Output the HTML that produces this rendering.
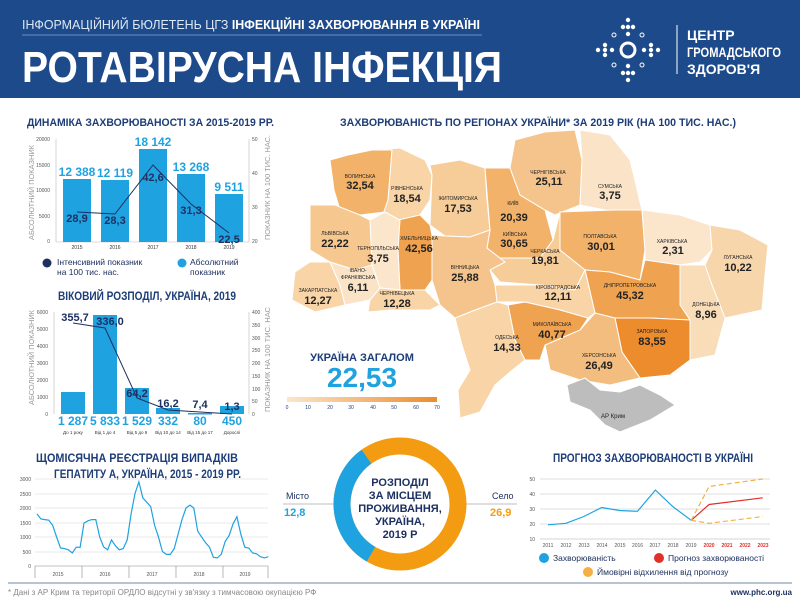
<!DOCTYPE html>
<html><head><meta charset="utf-8"><style>
html,body{margin:0;padding:0;background:#fff;}
svg{display:block;font-family:"Liberation Sans",sans-serif;}
</style></head><body>
<svg width="800" height="600" viewBox="0 0 800 600" xmlns="http://www.w3.org/2000/svg">
<!-- HEADER -->
<rect x="0" y="0" width="800" height="98" fill="#1c4a8b"/>
<text x="22" y="29" font-size="13" fill="#dfe8f5" textLength="458" lengthAdjust="spacingAndGlyphs">ІНФОРМАЦІЙНИЙ БЮЛЕТЕНЬ ЦГЗ <tspan font-weight="bold" fill="#fff">ІНФЕКЦІЙНІ ЗАХВОРЮВАННЯ В УКРАЇНІ</tspan></text>
<line x1="22" y1="35" x2="482" y2="35" stroke="#6f8fc0" stroke-width="1"/>
<text x="22" y="82" font-size="44" font-weight="bold" fill="#fff" textLength="480" lengthAdjust="spacingAndGlyphs">РОТАВІРУСНА ІНФЕКЦІЯ</text>
<g fill="#fff">
<circle cx="628" cy="50" r="7" fill="none" stroke="#fff" stroke-width="3"/>
<circle cx="628" cy="20" r="2.2"/><circle cx="628" cy="27" r="2.2"/><circle cx="623" cy="27" r="2.2"/><circle cx="633" cy="27" r="2.2"/><circle cx="628" cy="34" r="2.2"/>
<circle cx="628" cy="80" r="2.2"/><circle cx="628" cy="73" r="2.2"/><circle cx="623" cy="73" r="2.2"/><circle cx="633" cy="73" r="2.2"/><circle cx="628" cy="66" r="2.2"/>
<circle cx="598" cy="50" r="2.2"/><circle cx="605" cy="50" r="2.2"/><circle cx="605" cy="45" r="2.2"/><circle cx="605" cy="55" r="2.2"/><circle cx="612" cy="50" r="2.2"/>
<circle cx="658" cy="50" r="2.2"/><circle cx="651" cy="50" r="2.2"/><circle cx="651" cy="45" r="2.2"/><circle cx="651" cy="55" r="2.2"/><circle cx="644" cy="50" r="2.2"/>
</g>
<g fill="none" stroke="#fff" stroke-width="1"><circle cx="614" cy="35" r="2"/><circle cx="642" cy="35" r="2"/><circle cx="614" cy="65" r="2"/><circle cx="642" cy="65" r="2"/></g>
<line x1="677" y1="25" x2="677" y2="74" stroke="#fff" stroke-width="1"/>
<g font-size="14" font-weight="bold" fill="#fff"><text x="687" y="40">ЦЕНТР</text><text x="687" y="57" textLength="94" lengthAdjust="spacingAndGlyphs">ГРОМАДСЬКОГО</text><text x="687" y="74">ЗДОРОВ'Я</text></g>

<!-- SECTION TITLES -->
<g font-weight="bold" fill="#1d3d78">
<text x="27" y="126" font-size="11" textLength="247" lengthAdjust="spacingAndGlyphs">ДИНАМІКА ЗАХВОРЮВАНОСТІ ЗА 2015-2019 РР.</text>
<text x="340" y="126" font-size="11" textLength="396" lengthAdjust="spacingAndGlyphs">ЗАХВОРЮВАНІСТЬ ПО РЕГІОНАХ УКРАЇНИ* ЗА 2019 РІК (НА 100 ТИС. НАС.)</text>
<text x="58" y="300" font-size="12" textLength="178" lengthAdjust="spacingAndGlyphs">ВІКОВИЙ РОЗПОДІЛ, УКРАЇНА, 2019</text>
<text x="36" y="462" font-size="12" textLength="202" lengthAdjust="spacingAndGlyphs">ЩОМІСЯЧНА РЕЄСТРАЦІЯ ВИПАДКІВ</text>
<text x="54" y="478" font-size="12" textLength="187" lengthAdjust="spacingAndGlyphs">ГЕПАТИТУ А, УКРАЇНА, 2015 - 2019 РР.</text>
<text x="553" y="462" font-size="12" textLength="200" lengthAdjust="spacingAndGlyphs">ПРОГНОЗ ЗАХВОРЮВАНОСТІ В УКРАЇНІ</text>
</g>

<!-- CHART 1 -->
<g font-size="5" fill="#555">
<text x="50" y="141" text-anchor="end">20000</text><text x="50" y="167" text-anchor="end">15000</text><text x="50" y="192" text-anchor="end">10000</text><text x="50" y="218" text-anchor="end">5000</text><text x="50" y="243" text-anchor="end">0</text>
<text x="252" y="141">50</text><text x="252" y="175">40</text><text x="252" y="209">30</text><text x="252" y="243">20</text>
</g>
<line x1="56" y1="139" x2="56" y2="242" stroke="#bbb" stroke-width="0.6"/>
<line x1="249" y1="139" x2="249" y2="242" stroke="#bbb" stroke-width="0.6"/>
<line x1="56" y1="242" x2="249" y2="242" stroke="#bbb" stroke-width="0.6"/>
<text transform="translate(34,240) rotate(-90)" font-size="7" fill="#999" textLength="95" lengthAdjust="spacingAndGlyphs">АБСОЛЮТНИЙ ПОКАЗНИК</text>
<text transform="translate(270,240) rotate(-90)" font-size="7" fill="#999" textLength="105" lengthAdjust="spacingAndGlyphs">ПОКАЗНИК НА 100 ТИС. НАС.</text>
<g fill="#1fa2e0">
<rect x="63" y="179" width="28" height="63"/><rect x="101" y="180" width="28" height="62"/><rect x="139" y="149" width="28" height="93"/><rect x="177" y="174" width="28" height="68"/><rect x="215" y="194" width="28" height="48"/>
</g>
<g font-size="12" font-weight="bold" fill="#1fa2e0" text-anchor="middle">
<text x="77" y="176">12 388</text><text x="115" y="177">12 119</text><text x="153" y="146">18 142</text><text x="191" y="171">13 268</text><text x="229" y="191">9 511</text>
</g>
<polyline points="77,212 115,214 153,165 191,204 229,233" fill="none" stroke="#1d3060" stroke-width="1"/>
<g font-size="11" font-weight="bold" fill="#1d3060" text-anchor="middle">
<text x="77" y="222">28,9</text><text x="115" y="224">28,3</text><text x="153" y="181">42,6</text><text x="191" y="214">31,3</text><text x="229" y="243">22,5</text>
</g>
<g font-size="5" fill="#333" text-anchor="middle"><text x="77" y="249">2015</text><text x="115" y="249">2016</text><text x="153" y="249">2017</text><text x="191" y="249">2018</text><text x="229" y="249">2019</text></g>
<circle cx="47" cy="263" r="4.5" fill="#1d3060"/>
<circle cx="182" cy="263" r="4.5" fill="#1fa2e0"/>
<g font-size="8.5" fill="#1d3060"><text x="57" y="265">Інтенсивний показник</text><text x="57" y="275">на 100 тис. нас.</text><text x="190" y="265">Абсолютний</text><text x="190" y="275">показник</text></g>

<!-- CHART 2 -->
<g font-size="5" fill="#555">
<text x="48" y="314" text-anchor="end">6000</text><text x="48" y="331" text-anchor="end">5000</text><text x="48" y="348" text-anchor="end">4000</text><text x="48" y="365" text-anchor="end">3000</text><text x="48" y="382" text-anchor="end">2000</text><text x="48" y="399" text-anchor="end">1000</text><text x="48" y="416" text-anchor="end">0</text>
<text x="252" y="314">400</text><text x="252" y="327">350</text><text x="252" y="340">300</text><text x="252" y="352">250</text><text x="252" y="365">200</text><text x="252" y="378">150</text><text x="252" y="391">100</text><text x="252" y="403">50</text><text x="252" y="416">0</text>
</g>
<line x1="54" y1="312" x2="54" y2="414" stroke="#bbb" stroke-width="0.6"/>
<line x1="249" y1="312" x2="249" y2="414" stroke="#bbb" stroke-width="0.6"/>
<text transform="translate(34,405) rotate(-90)" font-size="7" fill="#999" textLength="95" lengthAdjust="spacingAndGlyphs">АБСОЛЮТНИЙ ПОКАЗНИК</text>
<text transform="translate(270,412) rotate(-90)" font-size="7" fill="#999" textLength="105" lengthAdjust="spacingAndGlyphs">ПОКАЗНИК НА 100 ТИС. НАС</text>
<g fill="#1fa2e0">
<rect x="61" y="392" width="24" height="22"/><rect x="93" y="315" width="24" height="99"/><rect x="125" y="388" width="24" height="26"/><rect x="156" y="408" width="24" height="6"/><rect x="188" y="413" width="24" height="1.5"/><rect x="220" y="406" width="24" height="8"/>
</g>
<polyline points="73,323 105,328 137,398 168,410 200,412 232,414" fill="none" stroke="#1d3060" stroke-width="1"/>
<g font-size="11" font-weight="bold" fill="#1d3060" text-anchor="middle">
<text x="75" y="321">355,7</text><text x="110" y="325">336,0</text><text x="137" y="397">64,2</text><text x="168" y="407">16,2</text><text x="200" y="408">7,4</text><text x="232" y="410">1,3</text>
</g>
<g font-size="12" font-weight="bold" fill="#1fa2e0" text-anchor="middle">
<text x="73" y="425">1 287</text><text x="105" y="425">5 833</text><text x="137" y="425">1 529</text><text x="168" y="425">332</text><text x="200" y="425">80</text><text x="232" y="425">450</text>
</g>
<g font-size="4.5" fill="#333" text-anchor="middle"><text x="73" y="434">До 1 року</text><text x="105" y="434">Від 1 до 4</text><text x="137" y="434">Від 5 до 9</text><text x="168" y="434">Від 10 до 14</text><text x="200" y="434">Від 15 до 17</text><text x="232" y="434">Дорослі</text></g>

<!-- HEPATITIS -->
<g stroke="#d5d5d5" stroke-width="0.6"><line x1="35" y1="479" x2="268" y2="479"/><line x1="35" y1="494" x2="268" y2="494"/><line x1="35" y1="508" x2="268" y2="508"/><line x1="35" y1="523" x2="268" y2="523"/><line x1="35" y1="537" x2="268" y2="537"/><line x1="35" y1="552" x2="268" y2="552"/></g>
<line x1="35" y1="566" x2="268" y2="566" stroke="#888" stroke-width="0.6"/>
<g font-size="5" fill="#555" text-anchor="end"><text x="31" y="481">3000</text><text x="31" y="496">2500</text><text x="31" y="510">2000</text><text x="31" y="525">1500</text><text x="31" y="539">1000</text><text x="31" y="554">500</text><text x="31" y="568">0</text></g>
<g stroke="#888" stroke-width="0.6"><line x1="35" y1="566" x2="35" y2="578"/><line x1="82" y1="566" x2="82" y2="578"/><line x1="129" y1="566" x2="129" y2="578"/><line x1="176" y1="566" x2="176" y2="578"/><line x1="223" y1="566" x2="223" y2="578"/><line x1="268" y1="566" x2="268" y2="578"/></g>
<g font-size="5" fill="#555" text-anchor="middle"><text x="58" y="576">2015</text><text x="105" y="576">2016</text><text x="152" y="576">2017</text><text x="199" y="576">2018</text><text x="245" y="576">2019</text></g>
<polyline fill="none" stroke="#1fa2e0" stroke-width="1.2" points="37,513.8 40.9,519 44.8,519.6 48.8,520.2 52.7,525.4 56.6,537 60.5,548 64.4,548.6 68.4,549.8 72.3,553 76.2,547.2 80.1,547.4 84,523 88,520.8 91.9,519.6 95.8,519.6 99.7,537 103.6,546.9 107.6,549.8 111.5,539.9 115.4,545.7 119.3,549.8 123.2,548.6 127.2,539.9 131.1,513.8 135,493.5 138.9,481.9 142.8,497.9 146.8,502.2 150.7,506.6 154.6,525.4 158.5,537 162.4,551.5 166.4,554.4 170.3,554.4 174.2,548.6 178.1,534.1 182,519.6 186,508 189.9,505.1 193.8,508 197.7,531.2 201.6,537 205.6,542.8 209.5,547.2 213.4,557.3 217.3,557.9 221.2,554.4 225.2,541.4 229.1,535.6 233,524 236.9,516.7 240.8,534.1 244.8,547.2 248.7,548 252.6,553 256.5,553.8 260.4,556.7 264.4,557.9 268.3,556.7"/>

<!-- DONUT -->
<line x1="283" y1="504" x2="336" y2="504" stroke="#aaa" stroke-width="0.8"/>
<line x1="464" y1="504" x2="517" y2="504" stroke="#aaa" stroke-width="0.8"/>
<circle cx="400" cy="504" r="58" fill="none" stroke="#f39c12" stroke-width="17"/>
<circle cx="400" cy="504" r="58" fill="none" stroke="#1fa2e0" stroke-width="17" stroke-dasharray="116 400" transform="rotate(120 400 504)"/>
<circle cx="336" cy="504" r="2.5" fill="#1fa2e0"/><circle cx="464" cy="504" r="2.5" fill="#f39c12"/>
<g font-size="11" font-weight="bold" fill="#1d3060" text-anchor="middle"><text x="400" y="486">РОЗПОДІЛ</text><text x="400" y="499">ЗА МІСЦЕМ</text><text x="400" y="512">ПРОЖИВАННЯ,</text><text x="400" y="525">УКРАЇНА,</text><text x="400" y="538">2019 Р</text></g>
<text x="286" y="499" font-size="9" fill="#1d3060">Місто</text>
<text x="284" y="516" font-size="11" font-weight="bold" fill="#1fa2e0">12,8</text>
<text x="492" y="499" font-size="9" fill="#1d3060">Село</text>
<text x="490" y="516" font-size="11" font-weight="bold" fill="#f39c12">26,9</text>

<!-- FORECAST -->
<g stroke="#d5d5d5" stroke-width="0.8"><line x1="540" y1="479" x2="770" y2="479"/><line x1="540" y1="494" x2="770" y2="494"/><line x1="540" y1="509" x2="770" y2="509"/><line x1="540" y1="524" x2="770" y2="524"/></g>
<line x1="540" y1="539" x2="770" y2="539" stroke="#aaa" stroke-width="0.6"/>
<g font-size="5" fill="#555" text-anchor="end"><text x="535" y="481">50</text><text x="535" y="496">40</text><text x="535" y="511">30</text><text x="535" y="526">20</text><text x="535" y="541">10</text></g>
<g font-size="5" fill="#555" text-anchor="middle"><text x="548" y="547">2011</text><text x="566" y="547">2012</text><text x="584" y="547">2013</text><text x="602" y="547">2014</text><text x="620" y="547">2015</text><text x="637.5" y="547">2016</text><text x="655" y="547">2017</text><text x="673" y="547">2018</text><text x="691" y="547">2019</text></g>
<g font-size="5" fill="#e0302a" font-weight="bold" text-anchor="middle"><text x="709" y="547">2020</text><text x="727" y="547">2021</text><text x="745" y="547">2022</text><text x="763" y="547">2023</text></g>
<polyline fill="none" stroke="#1fa2e0" stroke-width="1.2" points="548,524.8 565.9,523.3 583.8,516.5 601.7,507.5 619.6,510.5 637.5,511.3 655.4,490.1 673.3,507 691.2,520.3"/>
<polyline fill="none" stroke="#e0302a" stroke-width="1.2" points="691.2,520.3 709.1,504.5 762.8,497.8"/>
<polyline fill="none" stroke="#f5b041" stroke-width="1.2" stroke-dasharray="5 3" points="691.2,520.3 709.1,486.5 762.8,479"/>
<polyline fill="none" stroke="#f5b041" stroke-width="1.2" stroke-dasharray="5 3" points="691.2,520.3 709.1,523.3 762.8,516.5"/>
<circle cx="544" cy="558" r="5" fill="#1fa2e0"/><circle cx="659" cy="558" r="5" fill="#e0302a"/><circle cx="588" cy="572" r="5" fill="#f5b041"/>
<g font-size="8.5" fill="#1d3060"><text x="553" y="561">Захворюваність</text><text x="668" y="561">Прогноз захворюваності</text><text x="597" y="575">Ймовірні відхилення від прогнозу</text></g>

<!-- FOOTER -->
<line x1="8" y1="583" x2="792" y2="583" stroke="#b8c4d4" stroke-width="2"/>
<text x="8" y="595" font-size="8" fill="#888">* Дані з АР Крим та території ОРДЛО відсутні у зв'язку з тимчасовою окупацією РФ</text>
<text x="792" y="595" font-size="8" font-weight="bold" fill="#1d3060" text-anchor="end">www.phc.org.ua</text>

<!-- MAP -->
<g stroke="#fff" stroke-width="1">
<polygon points="330,160 348,155 372,150 392,150 388,200 385,212 360,215 340,210 334,190" fill="#f2b26a"/>
<polygon points="372,150 400,148 425,160 432,175 430,200 420,215 400,220 382,217 388,200 392,150" fill="#f8d4a6"/>
<polygon points="430,165 460,160 485,168 487,200 490,230 470,237 445,236 430,225 432,175" fill="#f6cc98"/>
<polygon points="485,168 510,168 520,195 545,210 553,240 540,258 505,262 487,248 490,230" fill="#f2b26a"/>
<polygon points="515,140 545,132 575,130 582,160 580,205 555,215 545,210 520,195 510,168" fill="#f5c48c"/>
<polygon points="580,130 610,135 630,160 642,210 615,212 580,205 582,160" fill="#fae3c6"/>
<polygon points="560,212 615,210 642,210 645,250 640,280 610,272 585,270 560,250" fill="#f2b26a"/>
<polygon points="490,258 540,258 553,240 560,212 560,250 585,270 575,290 540,285 500,282 490,270" fill="#f6cc98"/>
<polygon points="642,210 680,215 710,225 712,250 700,262 680,265 645,260 645,250" fill="#fbe6cc"/>
<polygon points="710,225 740,230 768,245 765,275 762,310 725,318 712,285 705,265 712,250" fill="#f8d6ac"/>
<polygon points="680,265 705,265 712,285 725,318 715,355 690,360 690,320 680,305" fill="#f9dcb8"/>
<polygon points="585,270 610,272 640,280 645,260 680,265 680,305 690,320 650,318 615,318 595,313" fill="#efa250"/>
<polygon points="495,285 540,285 575,290 585,270 595,313 588,318 560,310 525,302 497,302" fill="#f8d4a6"/>
<polygon points="615,318 650,318 690,320 690,360 670,375 640,378 622,352" fill="#ec8c2c"/>
<polygon points="545,345 580,330 595,313 615,318 622,352 640,378 610,385 580,380 550,370" fill="#f4bd80"/>
<polygon points="508,305 525,302 560,310 588,318 580,330 545,345 540,360 525,360 515,340" fill="#efa250"/>
<polygon points="455,318 475,310 497,302 508,305 515,340 525,360 510,372 495,385 480,412 460,418 458,390 470,370 462,345" fill="#f8d4a6"/>
<polygon points="432,235 445,236 470,237 490,230 487,248 505,262 490,270 495,285 497,302 475,310 455,318 440,305 432,280" fill="#f5c48c"/>
<polygon points="398,220 420,215 430,225 432,235 432,280 425,290 400,290 398,250" fill="#efa250"/>
<polygon points="370,220 385,212 400,220 398,250 400,290 380,288 372,265" fill="#fbe6cc"/>
<polygon points="310,205 335,205 360,215 370,220 372,265 355,270 330,262 310,250" fill="#f6c890"/>
<polygon points="295,272 310,262 330,262 340,285 345,305 315,312 292,300" fill="#f8d4a6"/>
<polygon points="330,262 355,270 372,265 380,288 370,300 345,305 340,285" fill="#fae3c6"/>
<polygon points="370,300 380,288 400,290 425,290 440,305 430,310 390,310 368,312" fill="#f8d4a6"/>
<polygon points="567,385 585,378 600,390 620,392 640,385 660,395 675,405 650,420 620,432 605,425 590,410 570,402" fill="#bdbdbd"/>
</g>
<g font-size="5" fill="#222" text-anchor="middle">
<text x="360" y="178">ВОЛИНСЬКА</text><text x="407" y="190">РІВНЕНСЬКА</text><text x="458" y="200">ЖИТОМИРСЬКА</text><text x="513" y="205">КИЇВ</text><text x="515" y="236">КИЇВСЬКА</text><text x="548" y="174">ЧЕРНІГІВСЬКА</text><text x="610" y="188">СУМСЬКА</text><text x="600" y="238">ПОЛТАВСЬКА</text><text x="545" y="253">ЧЕРКАСЬКА</text><text x="672" y="243">ХАРКІВСЬКА</text><text x="738" y="259">ЛУГАНСЬКА</text><text x="706" y="306">ДОНЕЦЬКА</text><text x="630" y="287">ДНІПРОПЕТРОВСЬКА</text><text x="558" y="289">КІРОВОГРАДСЬКА</text><text x="419" y="240">ХМЕЛЬНИЦЬКА</text><text x="378" y="250">ТЕРНОПІЛЬСЬКА</text><text x="335" y="235">ЛЬВІВСЬКА</text><text x="465" y="269">ВІННИЦЬКА</text><text x="318" y="292">ЗАКАРПАТСЬКА</text><text x="358" y="272">ІВАНО-</text><text x="358" y="279">ФРАНКІВСЬКА</text><text x="397" y="295">ЧЕРНІВЕЦЬКА</text><text x="552" y="326">МИКОЛАЇВСЬКА</text><text x="507" y="339">ОДЕСЬКА</text><text x="652" y="333">ЗАПОРІЗЬКА</text><text x="599" y="357">ХЕРСОНСЬКА</text>
</g>
<g font-size="11" font-weight="bold" fill="#222" text-anchor="middle">
<text x="360" y="189">32,54</text><text x="407" y="202">18,54</text><text x="458" y="212">17,53</text><text x="514" y="221">20,39</text><text x="514" y="247">30,65</text><text x="549" y="185">25,11</text><text x="610" y="199">3,75</text><text x="601" y="250">30,01</text><text x="545" y="264">19,81</text><text x="673" y="254">2,31</text><text x="738" y="271">10,22</text><text x="706" y="318">8,96</text><text x="630" y="299">45,32</text><text x="558" y="300">12,11</text><text x="419" y="252">42,56</text><text x="378" y="262">3,75</text><text x="335" y="247">22,22</text><text x="465" y="281">25,88</text><text x="318" y="304">12,27</text><text x="358" y="291">6,11</text><text x="397" y="307">12,28</text><text x="552" y="338">40,77</text><text x="507" y="351">14,33</text><text x="652" y="345">83,55</text><text x="599" y="369">26,49</text>
</g>
<text x="613" y="418" font-size="6" fill="#222" text-anchor="middle">АР Крим</text>
<text x="362" y="361" font-size="11" font-weight="bold" fill="#1d3d78" text-anchor="middle">УКРАЇНА ЗАГАЛОМ</text>
<text x="362" y="387" font-size="28" font-weight="bold" fill="#1fa2e0" text-anchor="middle">22,53</text>
<defs><linearGradient id="lg" x1="0" x2="1"><stop offset="0" stop-color="#fbe6cc"/><stop offset="1" stop-color="#ec8c2c"/></linearGradient></defs>
<rect x="287" y="397" width="150" height="5" fill="url(#lg)"/>
<g font-size="5" fill="#1d3d78" text-anchor="middle"><text x="287" y="409">0</text><text x="308" y="409">10</text><text x="330" y="409">20</text><text x="351" y="409">30</text><text x="373" y="409">40</text><text x="394" y="409">50</text><text x="416" y="409">60</text><text x="437" y="409">70</text></g>
</svg>
</body></html>
